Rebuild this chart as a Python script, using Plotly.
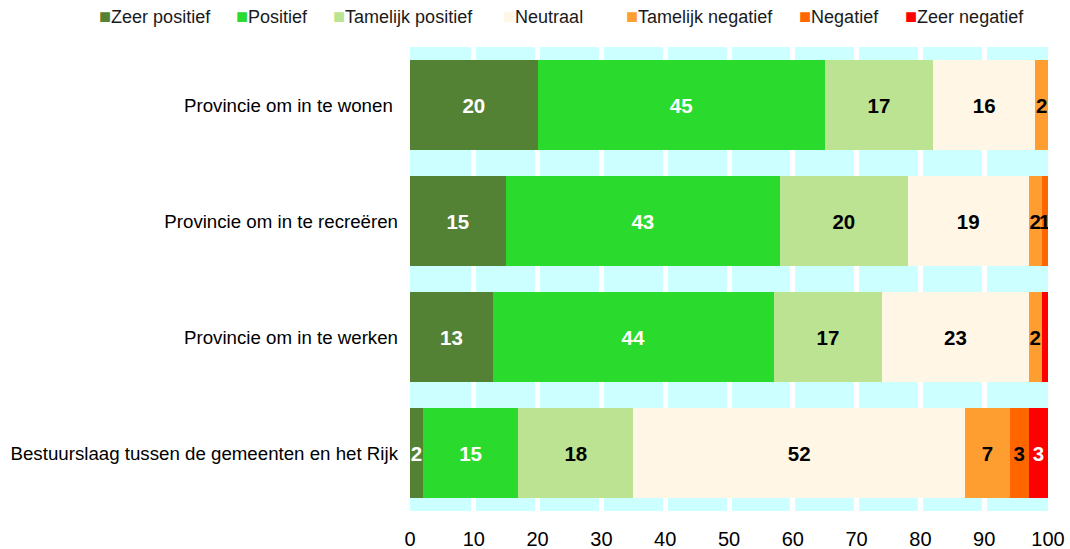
import plotly.graph_objects as go

categories = [
    "Provincie om in te wonen\u00a0",
    "Provincie om in te recreëren",
    "Provincie om in te werken",
    "Bestuurslaag tussen de gemeenten en het Rijk",
]
series_names = ["Zeer positief", "Positief", "Tamelijk positief", "Neutraal",
                "Tamelijk negatief", "Negatief", "Zeer negatief"]
zeer_positief = [20, 15, 13, 2]
positief = [45, 43, 44, 15]
tamelijk_positief = [17, 20, 17, 18]
neutraal = [16, 19, 23, 52]
tamelijk_negatief = [2, 2, 2, 7]
negatief = [0, 1, 0, 3]
zeer_negatief = [0, 0, 1, 3]
# labels not printed in the reference
hidden_labels = {("Zeer negatief", "Provincie om in te werken")}

x_ticks = [0, 10, 20, 30, 40, 50, 60, 70, 80, 90, 100]

values = [zeer_positief, positief, tamelijk_positief, neutraal,
          tamelijk_negatief, negatief, zeer_negatief]
colors = ["#548235", "#2ADB2E", "#BCE392", "#FFF6E6", "#FF9E30", "#FF6600", "#FF0000"]
text_colors = ["white", "white", "black", "black", "black", "black", "white"]

# legend layout (pixel x of each legend entry's left edge, in the 1070px canvas)
legend_px = [97, 234, 331, 501, 624, 797, 903]
legend_py = 16

W, H = 1070, 549
ML, MR, MT, MB = 410, 22, 47, 38
FONT = "Liberation Sans, Arial, sans-serif"

fig = go.Figure()
for name, vals, col, tcol in zip(series_names, values, colors, text_colors):
    texts = []
    for cat, v in zip(categories, vals):
        if v <= 0 or (name, cat) in hidden_labels:
            texts.append("")
        else:
            texts.append(f"<b>{v}</b>")
    fig.add_trace(go.Bar(
        name=name, y=categories, x=vals, orientation="h",
        marker=dict(color=col, line=dict(width=0)),
        text=texts, texttemplate="%{text}", textposition="inside",
        insidetextanchor="middle", textangle=0,
        textfont=dict(family=FONT, size=20.5, color=tcol),
        hoverinfo="x+name", showlegend=False,
    ))

annotations = []
for name, col, px in zip(series_names, colors, legend_px):
    annotations.append(dict(
        xref="paper", yref="paper",
        x=(px - ML) / (W - ML - MR), y=1 + (MT - legend_py) / (H - MT - MB),
        xanchor="left", yanchor="middle", showarrow=False,
        text=f"<span style='color:{col};font-size:20px'>■</span>{name}",
        font=dict(family=FONT, size=18, color="#1a1a1a"),
    ))

fig.update_layout(
    width=W, height=H,
    barmode="stack", bargap=0.23,
    paper_bgcolor="white", plot_bgcolor="#CCFFFF",
    margin=dict(l=ML, r=MR, t=MT, b=MB, autoexpand=False),
    font=dict(family=FONT, size=18, color="black"),
    uniformtext=dict(mode="show", minsize=20),
    showlegend=False,
    annotations=annotations,
    xaxis=dict(range=[0, 100], tickvals=x_ticks, showgrid=True, gridcolor="white",
               gridwidth=5, zeroline=False, showline=False, automargin=False,
               tickfont=dict(family=FONT, size=20, color="black"),
               ticks="", ticklabelstandoff=14),
    yaxis=dict(autorange="reversed", showgrid=False, zeroline=False, showline=False,
               automargin=False,
               tickfont=dict(family=FONT, size=18.7, color="black"),
               ticks="", ticklabelstandoff=11),
)

fig.write_html("out.html", config={"displayModeBar": False},
               post_script="document.body.style.margin='0px';document.body.style.overflow='hidden';")
